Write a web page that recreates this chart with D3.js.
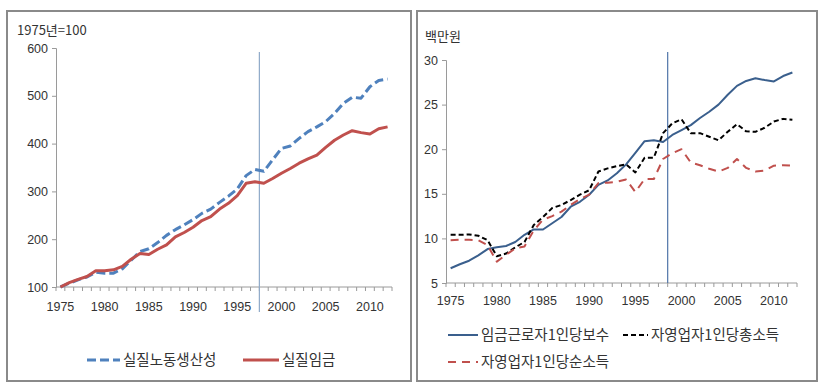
<!DOCTYPE html>
<html>
<head>
<meta charset="utf-8">
<script src="https://cdn.jsdelivr.net/npm/d3@7"></script>
<style>
  body { margin: 0; background: #fff; }
  svg text { font-family: "Liberation Sans", "Noto Sans CJK KR", sans-serif; fill: #333; }
  .kr { font-family: "Noto Sans CJK KR", sans-serif; }
</style>
</head>
<body>
<svg id="chart" width="821" height="389"></svg>
<script>
var years = [1975, 1976, 1977, 1978, 1979, 1980, 1981, 1982, 1983, 1984,
  1985, 1986, 1987, 1988, 1989, 1990, 1991, 1992, 1993, 1994,
  1995, 1996, 1997, 1998, 1999, 2000, 2001, 2002, 2003, 2004,
  2005, 2006, 2007, 2008, 2009, 2010, 2011, 2012];
var yearLabels = [1975, 1980, 1985, 1990, 1995, 2000, 2005, 2010];

// left panel (1975 = 100)
var leftTicks = [100, 200, 300, 400, 500, 600];
var productivity = [100, 108, 115, 121, 131, 129, 129, 138, 156, 174,
  180, 193, 208, 220, 230, 241, 254, 263, 277, 290,
  305, 333, 346, 342, 366, 390, 395, 411, 425, 435,
  446, 463, 484, 497, 495, 519, 532, 535];
var realWage = [100, 109, 116, 122, 134, 134, 136, 143, 158, 170,
  168, 179, 188, 205, 214, 225, 239, 247, 263, 275,
  291, 317, 320, 317, 327, 338, 348, 359, 368, 376,
  392, 407, 418, 427, 423, 420, 431, 435];

// right panel (million won)
var rightTicks = [5, 10, 15, 20, 25, 30];
var employeePay = [6.65, 7.1, 7.5, 8.1, 8.8, 9.0, 9.15, 9.6, 10.4, 11.0,
  11.0, 11.7, 12.4, 13.55, 14.1, 14.9, 16.0, 16.5, 17.3, 18.3,
  19.6, 20.9, 21.0, 20.8, 21.6, 22.15, 22.7, 23.5, 24.2, 25.0,
  26.1, 27.1, 27.65, 27.95, 27.75, 27.6, 28.2, 28.6];
var selfGross = [10.4, 10.4, 10.45, 10.3, 9.8, 8.0, 8.3, 9.0, 9.6, 11.5,
  12.4, 13.4, 13.75, 14.3, 14.9, 15.4, 17.5, 17.85, 18.1, 18.3,
  17.4, 19.05, 19.05, 21.8, 22.9, 23.35, 21.8, 21.8, 21.4, 21.0,
  21.95, 22.8, 22.0, 21.95, 22.4, 23.1, 23.4, 23.3];
var selfNet = [9.8, 9.85, 9.85, 9.8, 9.25, 7.4, 8.15, 8.9, 9.1, 10.9,
  12.1, 12.5, 13.0, 13.75, 14.4, 14.9, 16.2, 16.25, 16.35, 16.6,
  15.2, 16.65, 16.65, 18.9, 19.55, 20.0, 18.5, 18.2, 17.8, 17.5,
  17.9, 18.9, 17.9, 17.5, 17.6, 18.15, 18.2, 18.15];

var svg = d3.select("#chart");

function drawPanel(opt) {
  var g = svg.append("g");

  g.append("rect")
    .attr("x", opt.box[0]).attr("y", opt.box[1])
    .attr("width", opt.box[2]).attr("height", opt.box[3])
    .attr("fill", "none").attr("stroke", "#8a8a8a").attr("stroke-width", 2);

  var x = d3.scaleBand().domain(years).range(opt.xr).paddingInner(0).paddingOuter(0);
  var y = d3.scaleLinear().domain(opt.yd).range(opt.yr);
  var cx = function (yr) { return x(yr) + x.bandwidth() / 2; };

  // y axis
  var yAxis = g.append("g")
    .attr("transform", "translate(" + opt.xr[0] + ",0)")
    .call(d3.axisLeft(y).tickValues(opt.yTicks).tickSize(4).tickPadding(4));
  yAxis.select(".domain").attr("stroke", "#9a9a9a");
  yAxis.selectAll(".tick line").attr("stroke", "#9a9a9a");
  yAxis.selectAll("text").attr("font-size", 12.5).attr("fill", "#333");

  // x axis: ticks between categories, labels centred on categories
  var xAxisG = g.append("g").attr("transform", "translate(0," + opt.yr[0] + ")");
  xAxisG.append("line")
    .attr("x1", opt.xr[0]).attr("x2", opt.xr[1])
    .attr("stroke", "#9a9a9a");
  xAxisG.selectAll(".tk")
    .data(years.concat(["end"]))
    .enter().append("line")
    .attr("class", "tk")
    .attr("x1", function (d) { return d === "end" ? opt.xr[1] : x(d); })
    .attr("x2", function (d) { return d === "end" ? opt.xr[1] : x(d); })
    .attr("y1", 0).attr("y2", 4)
    .attr("stroke", "#9a9a9a");
  xAxisG.selectAll(".lbl")
    .data(yearLabels)
    .enter().append("text")
    .attr("class", "lbl")
    .attr("x", function (d) { return cx(d); })
    .attr("y", opt.labelDy)
    .attr("text-anchor", "middle")
    .attr("font-size", 12.5)
    .text(function (d) { return d; });

  // vertical marker line
  g.append("line")
    .attr("x1", x(opt.markYear)).attr("x2", x(opt.markYear))
    .attr("y1", opt.markY[0]).attr("y2", opt.markY[1])
    .attr("stroke", opt.markColor).attr("stroke-width", 1.2);

  // unit label
  g.append("text")
    .attr("class", "kr")
    .attr("x", opt.unitPos[0]).attr("y", opt.unitPos[1])
    .attr("font-size", 13)
    .text(opt.unit);

  var line = d3.line()
    .x(function (d, i) { return cx(years[i]); })
    .y(function (d) { return y(d); });

  opt.series.forEach(function (s) {
    g.append("path")
      .datum(s.values)
      .attr("d", line)
      .attr("fill", "none")
      .attr("stroke", s.color)
      .attr("stroke-width", s.width)
      .attr("stroke-dasharray", s.dash)
      .attr("stroke-linejoin", "round");
  });

  // legend
  var leg = g.selectAll(".leg")
    .data(opt.series)
    .enter().append("g")
    .attr("class", "leg")
    .attr("transform", function (d) { return "translate(" + d.leg[0] + "," + d.leg[1] + ")"; });
  leg.append("line")
    .attr("x1", 0).attr("x2", function (d) { return d.leg[2]; })
    .attr("stroke", function (d) { return d.color; })
    .attr("stroke-width", function (d) { return d.width; })
    .attr("stroke-dasharray", function (d) { return d.dash; });
  leg.append("text")
    .attr("class", "kr")
    .attr("x", function (d) { return d.leg[2] + 3; })
    .attr("y", 5)
    .attr("font-size", 14.5)
    .text(function (d) { return d.name; });
}

drawPanel({
  box: [7, 11, 404, 370],
  xr: [56, 392],
  yd: [100, 600], yr: [287, 48], yTicks: leftTicks,
  labelDy: 24,
  markYear: 1998, markY: [52, 312], markColor: "#8fa9c9",
  unit: "1975년=100", unitPos: [17, 35],
  series: [
    { name: "실질노동생산성", values: productivity, color: "#4f81bd", width: 3, dash: "9,4", leg: [87, 360, 33] },
    { name: "실질임금", values: realWage, color: "#c0504d", width: 3, dash: null, leg: [243, 360, 36] }
  ]
});

drawPanel({
  box: [417, 11, 400, 370],
  xr: [446, 797],
  yd: [5, 30], yr: [283, 60], yTicks: rightTicks,
  labelDy: 22,
  markYear: 1999, markY: [52, 283], markColor: "#4f74a8",
  unit: "백만원", unitPos: [425, 41],
  series: [
    { name: "임금근로자1인당보수", values: employeePay, color: "#3a5f8d", width: 2, dash: null, leg: [448, 335, 30] },
    { name: "자영업자1인당총소득", values: selfGross, color: "#000", width: 2, dash: "5,3", leg: [623, 335, 25] },
    { name: "자영업자1인당순소득", values: selfNet, color: "#c0504d", width: 2, dash: "8,6", leg: [448, 362, 30] }
  ]
});
</script>
</body>
</html>
